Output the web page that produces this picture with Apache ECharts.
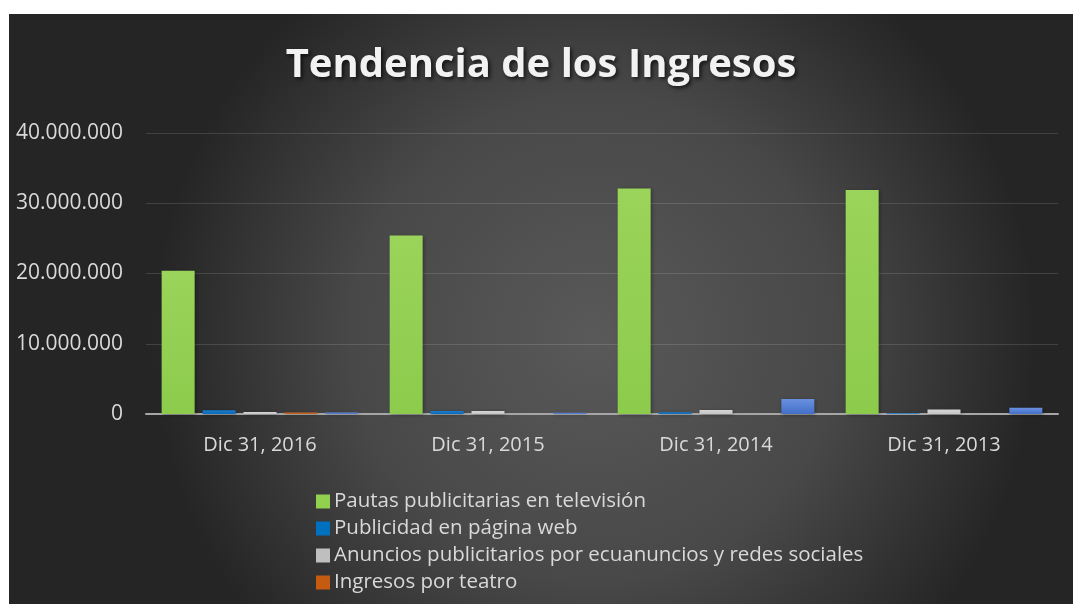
<!DOCTYPE html>
<html>
<head>
<meta charset="utf-8">
<style>
  html, body { margin: 0; padding: 0; background: #ffffff; width: 1073px; height: 604px; overflow: hidden; }
  #chart { position: absolute; left: 9px; top: 14px; width: 1064px; height: 590px; }
</style>
<script src="https://cdn.jsdelivr.net/npm/echarts@6/dist/echarts.min.js"></script>
</head>
<body>
<div id="chart"></div>
<script>
const categories = ['Dic 31, 2016', 'Dic 31, 2015', 'Dic 31, 2014', 'Dic 31, 2013'];
const seriesNames = [
  'Pautas publicitarias en televisión',
  'Publicidad en página web',
  'Anuncios publicitarios por ecuanuncios y redes sociales',
  'Ingresos por teatro',
  'Otros ingresos'
];
const tvValues = [20400000, 25400000, 32100000, 31900000];
const webValues = [550000, 430000, 250000, 120000];
const socialValues = [280000, 420000, 560000, 650000];
const theatreValues = [220000, 0, 0, 0];
const otherValues = [200000, 180000, 2150000, 880000];
const yTicks = [0, 10000000, 20000000, 30000000, 40000000];

const colors = [
  { type: 'linear', x: 0, y: 0, x2: 0, y2: 1, colorStops: [{ offset: 0, color: '#9ad45a' }, { offset: 1, color: '#8ccb4c' }] },
  { type: 'linear', x: 0, y: 0, x2: 0, y2: 1, colorStops: [{ offset: 0, color: '#1a7dd0' }, { offset: 1, color: '#0a68b8' }] },
  { type: 'linear', x: 0, y: 0, x2: 0, y2: 1, colorStops: [{ offset: 0, color: '#d6d6d6' }, { offset: 1, color: '#c4c4c4' }] },
  { type: 'linear', x: 0, y: 0, x2: 0, y2: 1, colorStops: [{ offset: 0, color: '#d0692a' }, { offset: 1, color: '#c05a18' }] },
  { type: 'linear', x: 0, y: 0, x2: 0, y2: 1, colorStops: [{ offset: 0, color: '#6a90e0' }, { offset: 1, color: '#4270c8' }] }
];
const legendColors = ['#92d050', '#0070c0', '#bfbfbf', '#c55a11', '#4472c4'];
const allValues = [tvValues, webValues, socialValues, theatreValues, otherValues];

function fmt(v) {
  return String(v).replace(/\B(?=(\d{3})+(?!\d))/g, '.');
}

const chart = echarts.init(document.getElementById('chart'), null, { renderer: 'canvas' });

const series = allValues.map((vals, i) => ({
  name: seriesNames[i],
  type: 'bar',
  data: vals,
  barWidth: 33,
  barGap: '24%',
  itemStyle: {
    color: colors[i],
    shadowColor: 'rgba(0,0,0,0.35)',
    shadowBlur: 4,
    shadowOffsetX: 1,
    shadowOffsetY: 1
  },
  emphasis: { disabled: true }
}));

chart.setOption({
  animation: false,
  backgroundColor: {
    type: 'radial', x: 0.55, y: 0.55, r: 0.75,
    colorStops: [
      { offset: 0, color: '#595959' },
      { offset: 0.55, color: '#484848' },
      { offset: 1, color: '#252525' }
    ]
  },
  color: legendColors,
  title: {
    text: 'Tendencia de los Ingresos',
    left: 'center',
    top: 32,
    padding: 0,
    textStyle: {
      fontFamily: 'Open Sans',
      fontWeight: 'bold',
      fontSize: 40,
      color: '#f2f2f2',
      textShadowColor: 'rgba(0,0,0,0.7)',
      textShadowBlur: 4,
      textShadowOffsetX: 2,
      textShadowOffsetY: 2
    }
  },
  legend: {
    data: seriesNames.slice(0, 4).map((n, i) => ({ name: n, itemStyle: { color: legendColors[i] } })),
    orient: 'vertical',
    left: 307,
    top: 477,
    height: 113,
    padding: 0,
    itemWidth: 14,
    itemHeight: 14,
    itemGap: 6,
    icon: 'rect',
    selectedMode: false,
    textStyle: { fontFamily: 'Open Sans', fontSize: 20.5, color: '#d9d9d9', padding: [0, 0, 0, -1] }
  },
  grid: { left: 137, right: 15, top: 119, bottom: 190, containLabel: false },
  xAxis: {
    type: 'category',
    data: categories,
    axisLine: { lineStyle: { color: '#a6a6a6', width: 2 } },
    axisTick: { show: false },
    axisLabel: { fontFamily: 'Open Sans', fontSize: 20, color: '#d9d9d9', margin: 21 }
  },
  yAxis: {
    type: 'value',
    min: yTicks[0],
    max: yTicks[yTicks.length - 1],
    interval: yTicks[1] - yTicks[0],
    axisLine: { show: false },
    axisTick: { show: false },
    splitLine: { lineStyle: { color: 'rgba(255,255,255,0.13)', width: 1 } },
    axisLabel: { fontFamily: 'Open Sans', fontSize: 21, color: '#d9d9d9', margin: 23, formatter: v => fmt(v) }
  },
  series: series
});
</script>
</body>
</html>
